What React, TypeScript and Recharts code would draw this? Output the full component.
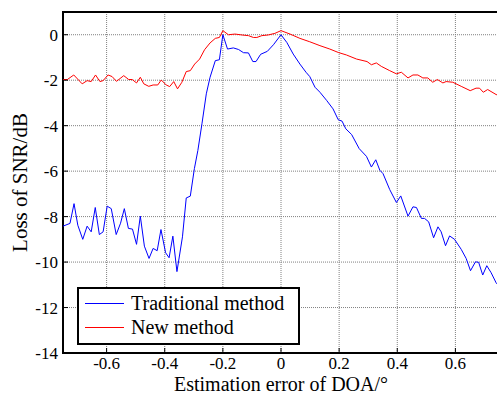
import React from 'react'
import { LineChart, Line, XAxis, YAxis, CartesianGrid, Legend, ReferenceArea } from 'recharts'

const xTicks = [-0.6, -0.4, -0.2, 0, 0.2, 0.4, 0.6]
const yTicks = [-14, -12, -10, -8, -6, -4, -2, 0]

// DOA error / loss pairs
const traditionalDoa = [
  -0.75, -0.726, -0.712, -0.699, -0.682, -0.667, -0.653, -0.639, -0.625, -0.612,
  -0.598, -0.584, -0.567, -0.552, -0.539, -0.525, -0.511, -0.497, -0.484, -0.47,
  -0.454, -0.44, -0.426, -0.413, -0.397, -0.385, -0.372, -0.358, -0.339, -0.326,
  -0.312, -0.298, -0.286, -0.272, -0.257, -0.244, -0.226, -0.212, -0.2, -0.184,
  -0.164, -0.146, -0.129, -0.112, -0.097, -0.086, -0.07, -0.047, -0.026, 0,
  0.02, 0.042, 0.065, 0.086, 0.099, 0.117, 0.134, 0.157, 0.179, 0.197,
  0.21, 0.223, 0.243, 0.269, 0.294, 0.311, 0.326, 0.34, 0.351, 0.374,
  0.397, 0.412, 0.437, 0.454, 0.466, 0.483, 0.494, 0.508, 0.525, 0.54,
  0.551, 0.566, 0.58, 0.597, 0.62, 0.637, 0.652, 0.669, 0.68, 0.694,
  0.708, 0.723, 0.74, 0.75,
]
const traditionalLoss = [
  -8.42, -8.3, -7.43, -8.38, -9.0, -8.42, -8.67, -7.6, -8.79, -8.67,
  -7.54, -7.65, -8.79, -8.29, -7.65, -8.52, -8.55, -9.22, -7.98, -9.3,
  -9.84, -9.4, -9.5, -8.57, -9.59, -9.81, -8.86, -10.42, -8.89, -7.18,
  -7.1, -5.89, -5.09, -3.92, -2.6, -1.87, -1.14, -1.1, 0, -0.63,
  -0.58, -0.65, -0.79, -0.8, -1.18, -1.18, -0.86, -0.73, -0.44, 0,
  -0.34, -0.85, -1.29, -1.65, -1.84, -2.31, -2.53, -2.89, -3.26, -3.74,
  -3.8, -4.14, -4.39, -5.01, -5.35, -5.82, -5.5, -5.96, -6.11, -6.81,
  -7.38, -7.09, -7.98, -7.57, -7.6, -8.08, -8.08, -8.23, -8.93, -8.45,
  -8.67, -9.28, -8.85, -9.0, -9.44, -9.84, -10.38, -9.99, -10.01, -10.57,
  -10.16, -10.47, -10.91, -11.05,
]

const newDoa = [
  -0.75, -0.735, -0.713, -0.684, -0.667, -0.653, -0.638, -0.623, -0.612, -0.595,
  -0.581, -0.566, -0.541, -0.524, -0.512, -0.497, -0.484, -0.472, -0.455, -0.44,
  -0.424, -0.412, -0.395, -0.383, -0.369, -0.356, -0.341, -0.326, -0.312, -0.297,
  -0.28, -0.263, -0.244, -0.226, -0.212, -0.2, -0.181, -0.158, -0.135, -0.112,
  -0.095, -0.083, -0.066, -0.044, -0.021, 0, 0.031, 0.065, 0.099, 0.134,
  0.168, 0.197, 0.225, 0.26, 0.296, 0.311, 0.328, 0.345, 0.374, 0.397,
  0.414, 0.437, 0.454, 0.471, 0.488, 0.505, 0.522, 0.538, 0.557, 0.568,
  0.591, 0.62, 0.651, 0.671, 0.683, 0.696, 0.711, 0.74, 0.75,
]
const newLoss = [
  -1.97, -1.97, -1.77, -2.16, -2.02, -2.06, -1.77, -2.06, -2.02, -1.77,
  -1.84, -2.05, -1.8, -1.97, -1.97, -2.12, -1.87, -2.16, -2.27, -2.21,
  -2.21, -1.99, -2.21, -2.28, -2.06, -2.38, -2.09, -1.62, -1.58, -1.29,
  -1.07, -0.66, -0.36, -0.16, -0.12, 0.18, 0, 0.03, -0.01, -0.04,
  -0.12, -0.12, -0.04, -0.01, 0.06, 0.18, 0.03, -0.16, -0.31, -0.48,
  -0.63, -0.78, -0.89, -1.07, -1.18, -1.32, -1.24, -1.39, -1.58, -1.72,
  -1.65, -1.9, -1.77, -1.77, -1.9, -1.9, -2.09, -1.97, -2.12, -2.06,
  -2.09, -2.27, -2.46, -2.35, -2.35, -2.53, -2.41, -2.63, -2.67,
]

const seriesNames = ['Traditional method', 'New method']
const seriesColors = ['#0000ff', '#ff0000']

const traditionalData = traditionalDoa.map((x, i) => ({ x, y: traditionalLoss[i] }))
const newData = newDoa.map((x, i) => ({ x, y: newLoss[i] }))

const serif = '"Liberation Serif", serif'
const tickTextStyle = { fontFamily: serif, fontSize: 17, fill: '#000' }

const XTick = ({ x, y, payload }: any) => (
  <text x={x} y={y} dy={11} textAnchor="middle" style={tickTextStyle}>
    {payload.value}
  </text>
)

const YTick = ({ x, y, payload }: any) => (
  <text x={x} y={y} dy={6} textAnchor="end" style={tickTextStyle}>
    {payload.value}
  </text>
)

const LegendBox = () => (
  <div style={{
    width: 219, height: 52, border: '2px solid #000', background: '#fff',
    fontFamily: serif, fontSize: 20, color: '#000', paddingTop: 2,
  }}>
    {seriesNames.map((name, i) => (
      <div key={name} style={{ display: 'flex', alignItems: 'center', height: 24, lineHeight: '24px' }}>
        <span style={{ width: 39, borderTop: `1px solid ${seriesColors[i]}`, marginLeft: 6, marginRight: 7 }} />
        <span>{name}</span>
      </div>
    ))}
  </div>
)

export default function App() {
  return (
    <div style={{ position: 'absolute', left: 0, top: 0, background: '#fff', fontFamily: serif }}>
      <LineChart width={500} height={395} margin={{ top: 0, right: 0, bottom: 0, left: 0 }}>
        <CartesianGrid stroke="#808080" strokeDasharray="1 1" />
        <XAxis
          dataKey="x" type="number" domain={[-0.75, 0.75]} ticks={xTicks}
          allowDataOverflow height={42} tickSize={-5} tickMargin={10}
          tick={<XTick />} tickLine={{ stroke: '#000' }} axisLine={false}
          label={{ value: 'Estimation error of DOA/°', position: 'insideBottom', offset: 4, style: { fontFamily: serif, fontSize: 20, fill: '#000' } }}
        />
        <XAxis
          xAxisId="top" orientation="top" type="number" domain={[-0.75, 0.75]} ticks={xTicks}
          height={12} tickSize={-5} tickFormatter={() => ''} tickLine={{ stroke: '#000' }} axisLine={false}
        />
        <YAxis
          type="number" domain={[-14, 1]} ticks={yTicks} allowDataOverflow width={63}
          tickSize={-5} tickMargin={10} tick={<YTick />} tickLine={{ stroke: '#000' }} axisLine={false}
          label={{ value: 'Loss of SNR/dB', angle: -90, position: 'insideLeft', offset: 20, style: { textAnchor: 'middle', fontFamily: serif, fontSize: 21, fill: '#000' } }}
        />
        <YAxis
          yAxisId="right" orientation="right" type="number" domain={[-14, 1]} ticks={yTicks} width={1}
          tickSize={-5} tickFormatter={() => ''} tickLine={{ stroke: '#000' }} axisLine={false}
        />
        <Line data={traditionalData} dataKey="y" name={seriesNames[0]} stroke={seriesColors[0]} strokeWidth={1} dot={false} isAnimationActive={false} />
        <Line data={newData} dataKey="y" name={seriesNames[1]} stroke={seriesColors[1]} strokeWidth={1} dot={false} isAnimationActive={false} />
        <ReferenceArea x1={-0.75} x2={0.75} y1={-14} y2={1} fill="none" stroke="#000" strokeWidth={2} />
        <Legend layout="vertical" align="center" verticalAlign="middle" content={<LegendBox />} wrapperStyle={{ left: 77, top: 287, width: 'auto' }} />
      </LineChart>
    </div>
  )
}
